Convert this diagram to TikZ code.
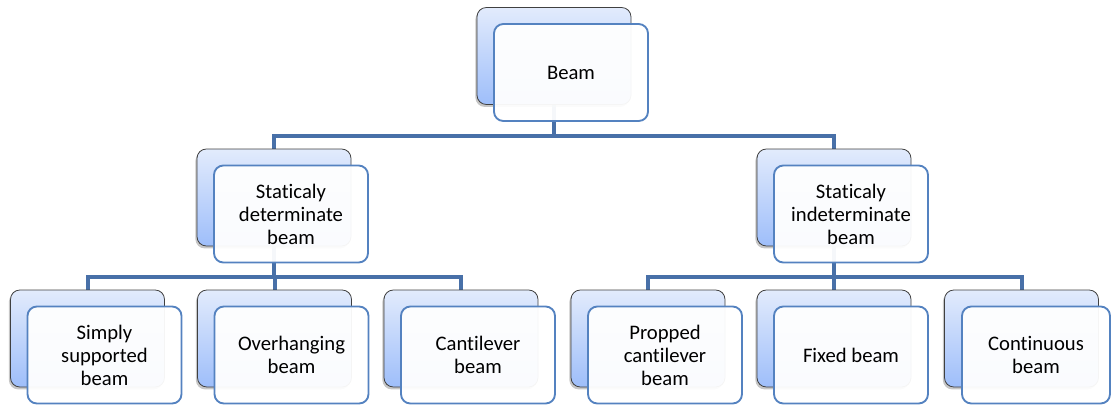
\documentclass[tikz,border=0pt]{standalone}
\usepackage{fontspec}
\setmainfont[Ligatures={NoCommon}]{Carlito}
\usetikzlibrary{shadows,backgrounds}
\definecolor{garis}{RGB}{72,112,168}
\definecolor{tepi}{RGB}{84,130,192}
\definecolor{atas}{RGB}{226,235,252}
\definecolor{bawah}{RGB}{158,190,250}
\begin{document}
\begin{tikzpicture}[x=0.75pt,y=-0.75pt]
    % Satuan 1 px gambar acuan; sumbu y dibalik sehingga y dihitung dari atas.
    \tikzset{
      back/.style={draw=black!75,line width=0.6pt,rounded corners=7pt,
        top color=atas,bottom color=bawah,minimum width=115.5pt,
        minimum height=72.75pt,inner sep=0pt,
        drop shadow={shadow xshift=-1.2pt,shadow yshift=-1.8pt,opacity=0.45}},
      front/.style={draw=tepi,line width=1.4pt,rounded corners=7pt,
        fill=white,fill opacity=0.95,text opacity=1,minimum width=115.5pt,
        minimum height=72.75pt,inner sep=2pt,align=center,
        font=\fontsize{15.5}{17.25}\selectfont},
      link/.style={draw=garis,line width=3pt}}
    \useasboundingbox (0,0) rectangle (1111,405);
    % Kotak belakang (bayangan biru) dan kotak depan berisi teks
    \node[back] (top-b) at (554,56) {};
    \node[front] (top-f) at (571,72.5) {Beam};
    \node[back] (det-b) at (274,197.5) {};
    \node[front] (det-f) at (291,214) {Staticaly\\determinate\\beam};
    \node[back] (ind-b) at (834,197.5) {};
    \node[front] (ind-f) at (851,214) {Staticaly\\indeterminate\\beam};
    % Baris bawah: enam jenis balok
    \foreach \n/\x/\teks in {1/87.5/{Simply\\supported\\beam},
        2/274.5/{Overhanging\\beam}, 3/461/{Cantilever\\beam},
        4/648/{Propped\\cantilever\\beam}, 5/834/{Fixed beam}} {
      \node[back] (leaf\n-b) at (\x,338.5) {};
      \node[front] (leaf\n-f) at (\x+17,355) {\teks};
    }
    \node[back] (leaf6-b) at (1021.5,338.5) {};
    \node[front,minimum width=111pt] (leaf6-f) at (1036,355) {Continuous\\beam};
    % Garis penghubung di belakang semua kotak
    \begin{scope}[on background layer]
      \draw[link] (top-b.south) -- ++(0,31) coordinate (bus0);
      \draw[link] (bus0) -| (det-b.north);
      \draw[link] (bus0) -| (ind-b.north);
      \draw[link] (det-b.south) -- ++(0,31) coordinate (bus1);
      \draw[link] (bus1) -| (leaf1-b.north);
      \draw[link] (bus1) -| (leaf2-b.north);
      \draw[link] (bus1) -| (leaf3-b.north);
      \draw[link] (ind-b.south) -- ++(0,31) coordinate (bus2);
      \draw[link] (bus2) -| (leaf4-b.north);
      \draw[link] (bus2) -| (leaf5-b.north);
      \draw[link] (bus2) -| (leaf6-b.north);
    \end{scope}
  \end{tikzpicture}
\end{document}
